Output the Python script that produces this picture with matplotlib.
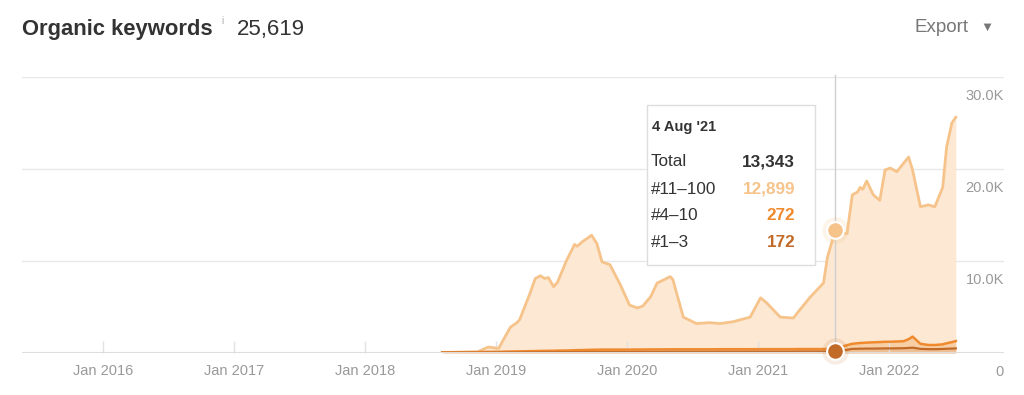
import numpy as np
import matplotlib.pyplot as plt
from matplotlib.patches import Rectangle

plt.rcParams['font.family'] = ['Liberation Sans', 'DejaVu Sans']

# decimal years and keyword counts (thousands)
dates = [2018.59, 2018.86, 2018.94, 2019.02, 2019.11, 2019.16, 2019.18, 2019.26, 2019.30, 2019.34,
         2019.37, 2019.40, 2019.44, 2019.47, 2019.54, 2019.60, 2019.62, 2019.66, 2019.73, 2019.77,
         2019.81, 2019.87, 2019.95, 2020.02, 2020.08, 2020.12, 2020.18, 2020.23, 2020.33, 2020.35,
         2020.43, 2020.53, 2020.63, 2020.71, 2020.81, 2020.94, 2021.02, 2021.07, 2021.17, 2021.27,
         2021.32, 2021.40, 2021.50, 2021.53, 2021.59, 2021.61, 2021.68, 2021.72, 2021.76, 2021.78,
         2021.80, 2021.83, 2021.88, 2021.93, 2021.97, 2022.01, 2022.06, 2022.11, 2022.15, 2022.18,
         2022.24, 2022.30, 2022.35, 2022.41, 2022.44, 2022.48, 2022.51]
total = [0.05, 0.12, 0.65, 0.5, 2.8, 3.3, 3.6, 6.5, 8.1, 8.4,
         8.1, 8.2, 7.2, 7.7, 10.1, 11.8, 11.6, 12.1, 12.8, 11.9,
         9.9, 9.6, 7.4, 5.2, 4.9, 5.1, 6.1, 7.6, 8.3, 8.0,
         3.9, 3.2, 3.3, 3.2, 3.4, 3.9, 6.0, 5.4, 3.9, 3.8,
         4.7, 6.1, 7.6, 10.4, 13.343, 13.0, 13.0, 17.2, 17.5, 18.0,
         17.8, 18.7, 17.2, 16.6, 19.9, 20.1, 19.7, 20.6, 21.3, 19.9,
         15.9, 16.1, 15.9, 18.0, 22.4, 25.0, 25.619]
pos_1_3 = [0.03, 0.04, 0.05, 0.05, 0.06, 0.06, 0.06, 0.07, 0.07, 0.08,
           0.08, 0.08, 0.08, 0.09, 0.09, 0.10, 0.10, 0.10, 0.11, 0.11,
           0.11, 0.11, 0.11, 0.11, 0.12, 0.12, 0.12, 0.12, 0.13, 0.13,
           0.13, 0.13, 0.13, 0.14, 0.14, 0.14, 0.15, 0.15, 0.15, 0.15,
           0.16, 0.16, 0.16, 0.17, 0.172, 0.22, 0.35, 0.45, 0.46, 0.47,
           0.47, 0.48, 0.48, 0.49, 0.50, 0.50, 0.51, 0.52, 0.55, 0.58,
           0.45, 0.42, 0.42, 0.44, 0.46, 0.48, 0.50]
pos_4_10 = [0.05, 0.06, 0.07, 0.08, 0.10, 0.11, 0.12, 0.13, 0.14, 0.15,
            0.15, 0.16, 0.16, 0.17, 0.18, 0.20, 0.21, 0.22, 0.24, 0.25,
            0.26, 0.26, 0.26, 0.26, 0.26, 0.26, 0.27, 0.27, 0.27, 0.27,
            0.27, 0.27, 0.27, 0.27, 0.27, 0.27, 0.27, 0.27, 0.27, 0.27,
            0.27, 0.27, 0.27, 0.27, 0.272, 0.35, 0.5, 0.55, 0.6, 0.62,
            0.63, 0.65, 0.68, 0.7, 0.72, 0.72, 0.74, 0.76, 0.95, 1.2,
            0.55, 0.45, 0.45, 0.5, 0.6, 0.7, 0.8]
years = [2016, 2017, 2018, 2019, 2020, 2021, 2022]
y_ticks = [0, 10000, 20000, 30000]
y_labels = ['0', '10.0K', '20.0K', '30.0K']
hover_date = 2021.59

light = '#f6c38b'
orange = '#f08a2e'
dark = '#c26b28'

d = np.array(dates)
t = np.array(total) * 1000
a = np.array(pos_1_3) * 1000
b = a + np.array(pos_4_10) * 1000

W, H = 1024, 395
fig = plt.figure(figsize=(W / 100, H / 100), dpi=100)
ax = fig.add_axes([22 / W, (H - 353) / H, (1004 - 22) / W, 276 / H])

ax.fill_between(d, 0, t, color='#fce8d3', lw=0)
ax.fill_between(d, a, b, color='#f8cfa5', lw=0)
ax.fill_between(d, 0, a, color='#efbf94', lw=0)
ax.plot(d, t, color=light, lw=2.0, solid_joinstyle='round')
ax.plot(d, b, color=orange, lw=1.8)
ax.plot(d, a, color=dark, lw=1.6)

for v in y_ticks[1:]:
    ax.axhline(v, color='#e8e8e8', lw=1, zorder=0)
ax.axhline(0, color='#dddddd', lw=1.5, zorder=5)

ax.set_xlim(2015.382, 2022.878)
ax.set_ylim(0, 30000)
for s in ax.spines.values():
    s.set_visible(False)
ax.set_yticks([])
ax.set_xticks(years)
ax.set_xticklabels(['Jan %d' % y for y in years])
ax.tick_params(axis='x', direction='in', length=9, width=1, color='#e2e2e2',
               labelcolor='#999999', labelsize=10.5, pad=8)

for v, lab in zip(y_ticks, y_labels):
    ax.annotate(lab, xy=(1, v), xycoords=('axes fraction', 'data'), xytext=(0, -19),
                textcoords='offset pixels', ha='right', va='center', color='#999999', fontsize=10.5)

# hover line and markers
ax.plot([hover_date, hover_date], [0, 30200], color='#cfcfcf', lw=1, zorder=6, clip_on=False)
hover_total = t[dates.index(hover_date)]
hover_top3 = a[dates.index(hover_date)]
ax.plot(hover_date, hover_total, 'o', ms=19, color=light, alpha=0.18, mec='none', zorder=7)
ax.plot(hover_date, hover_total, 'o', ms=12, color=light, mec='white', mew=1.5, zorder=8)
ax.plot(hover_date, hover_top3, 'o', ms=19, color=dark, alpha=0.12, mec='none', zorder=7, clip_on=False)
ax.plot(hover_date, hover_top3, 'o', ms=12, color=dark, mec='white', mew=1.5, zorder=8, clip_on=False)


def px(x, y):
    return x / W, 1 - y / H


# tooltip
fig.add_artist(Rectangle(px(647, 265), 168 / W, 160 / H, transform=fig.transFigure,
                         facecolor='white', edgecolor='#dddddd', lw=1, zorder=10))
fig.text(*px(652, 127), "4 Aug '21", fontsize=10.5, fontweight='bold', color='#333333', va='center', zorder=11)
rows = [('Total', '13,343', '#333333', 162), ('#11–100', '12,899', light, 189),
        ('#4–10', '272', orange, 215), ('#1–3', '172', dark, 243)]
for lab, val, col, yy in rows:
    fig.text(*px(651, yy), lab, fontsize=12.3, color='#333333', va='center', zorder=11)
    fig.text(*px(795, yy), val, fontsize=12.3, color=col, fontweight='bold', ha='right', va='center', zorder=11)

# header
fig.text(*px(22, 29), 'Organic keywords', fontsize=15.8, fontweight='bold', color='#333333', va='center')
fig.text(*px(221, 21), 'i', fontsize=7, color='#aaaaaa', va='center')
fig.text(*px(237, 29), '25,619', fontsize=16, color='#333333', va='center')
fig.text(*px(968, 28), 'Export', fontsize=13.5, color='#777777', va='center', ha='right')
fig.text(*px(987, 28), '▼', fontsize=9.5, color='#777777', va='center', ha='center')

fig.savefig('out.png', dpi=100)
